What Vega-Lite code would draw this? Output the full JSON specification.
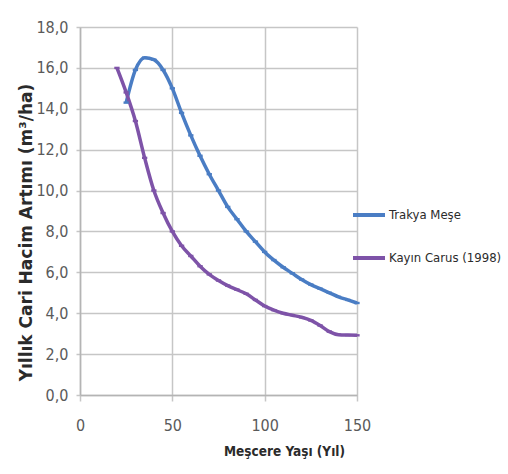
{
  "$schema": "https://vega.github.io/schema/vega-lite/v6.json",
  "width": 277,
  "height": 368,
  "autosize": {"type": "none"},
  "padding": {"left": 80, "top": 27, "right": 151, "bottom": 79},
  "background": "white",
  "config": {
    "view": {"stroke": null},
    "axis": {
      "gridColor": "#c6c6c6",
      "gridWidth": 1.5,
      "domainColor": "#b4b4b4",
      "domainWidth": 1.5,
      "tickColor": "#c6c6c6",
      "tickWidth": 1.5,
      "labelFont": "DejaVu Sans Condensed, Liberation Sans, sans-serif",
      "labelFontSize": 16,
      "labelColor": "#5a5a5a",
      "titleColor": "#2b2b2b"
    }
  },
  "data": {
    "values": [
      {"seri": "Trakya Meşe", "yas": 25, "artim": 14.3},
      {"seri": "Trakya Meşe", "yas": 30, "artim": 15.9},
      {"seri": "Trakya Meşe", "yas": 35, "artim": 16.5},
      {"seri": "Trakya Meşe", "yas": 40, "artim": 16.4},
      {"seri": "Trakya Meşe", "yas": 45, "artim": 15.9},
      {"seri": "Trakya Meşe", "yas": 50, "artim": 15.0},
      {"seri": "Trakya Meşe", "yas": 55, "artim": 13.8},
      {"seri": "Trakya Meşe", "yas": 60, "artim": 12.7},
      {"seri": "Trakya Meşe", "yas": 65, "artim": 11.7},
      {"seri": "Trakya Meşe", "yas": 70, "artim": 10.8},
      {"seri": "Trakya Meşe", "yas": 75, "artim": 10.0},
      {"seri": "Trakya Meşe", "yas": 80, "artim": 9.2},
      {"seri": "Trakya Meşe", "yas": 85, "artim": 8.6},
      {"seri": "Trakya Meşe", "yas": 90, "artim": 8.0},
      {"seri": "Trakya Meşe", "yas": 95, "artim": 7.5},
      {"seri": "Trakya Meşe", "yas": 100, "artim": 7.0},
      {"seri": "Trakya Meşe", "yas": 105, "artim": 6.6},
      {"seri": "Trakya Meşe", "yas": 110, "artim": 6.25},
      {"seri": "Trakya Meşe", "yas": 115, "artim": 5.95},
      {"seri": "Trakya Meşe", "yas": 120, "artim": 5.65},
      {"seri": "Trakya Meşe", "yas": 125, "artim": 5.4},
      {"seri": "Trakya Meşe", "yas": 130, "artim": 5.2},
      {"seri": "Trakya Meşe", "yas": 135, "artim": 5.0},
      {"seri": "Trakya Meşe", "yas": 140, "artim": 4.8},
      {"seri": "Trakya Meşe", "yas": 145, "artim": 4.65},
      {"seri": "Trakya Meşe", "yas": 150, "artim": 4.5},
      {"seri": "Kayın Carus (1998)", "yas": 20, "artim": 16.0},
      {"seri": "Kayın Carus (1998)", "yas": 25, "artim": 14.8},
      {"seri": "Kayın Carus (1998)", "yas": 30, "artim": 13.4},
      {"seri": "Kayın Carus (1998)", "yas": 35, "artim": 11.6},
      {"seri": "Kayın Carus (1998)", "yas": 40, "artim": 10.0},
      {"seri": "Kayın Carus (1998)", "yas": 45, "artim": 8.9},
      {"seri": "Kayın Carus (1998)", "yas": 50, "artim": 8.0},
      {"seri": "Kayın Carus (1998)", "yas": 55, "artim": 7.3},
      {"seri": "Kayın Carus (1998)", "yas": 60, "artim": 6.8},
      {"seri": "Kayın Carus (1998)", "yas": 65, "artim": 6.3},
      {"seri": "Kayın Carus (1998)", "yas": 70, "artim": 5.9},
      {"seri": "Kayın Carus (1998)", "yas": 75, "artim": 5.6},
      {"seri": "Kayın Carus (1998)", "yas": 80, "artim": 5.35},
      {"seri": "Kayın Carus (1998)", "yas": 85, "artim": 5.15},
      {"seri": "Kayın Carus (1998)", "yas": 90, "artim": 4.95},
      {"seri": "Kayın Carus (1998)", "yas": 95, "artim": 4.65},
      {"seri": "Kayın Carus (1998)", "yas": 100, "artim": 4.35},
      {"seri": "Kayın Carus (1998)", "yas": 105, "artim": 4.15},
      {"seri": "Kayın Carus (1998)", "yas": 110, "artim": 4.0},
      {"seri": "Kayın Carus (1998)", "yas": 115, "artim": 3.9},
      {"seri": "Kayın Carus (1998)", "yas": 120, "artim": 3.8},
      {"seri": "Kayın Carus (1998)", "yas": 125, "artim": 3.65},
      {"seri": "Kayın Carus (1998)", "yas": 130, "artim": 3.4},
      {"seri": "Kayın Carus (1998)", "yas": 135, "artim": 3.1},
      {"seri": "Kayın Carus (1998)", "yas": 140, "artim": 2.95},
      {"seri": "Kayın Carus (1998)", "yas": 145, "artim": 2.93},
      {"seri": "Kayın Carus (1998)", "yas": 150, "artim": 2.92}
    ]
  },
  "mark": {
    "type": "line",
    "interpolate": "monotone",
    "strokeWidth": 3.5,
    "point": {"filled": true, "size": 28, "shape": "M-1,-0.45L1,-0.45L1,0.45L-1,0.45Z"}
  },
  "encoding": {
    "x": {
      "field": "yas",
      "type": "quantitative",
      "scale": {"domain": [0, 150], "nice": false},
      "axis": {
        "values": [0, 50, 100, 150],
        "grid": true,
        "tickSize": 6,
        "labelFlush": false,
        "labelPadding": 16,
        "title": "Meşcere Yaşı (Yıl)",
        "titleFont": "DejaVu Sans Condensed, Liberation Sans, sans-serif",
        "titleFontWeight": "bold",
        "titleFontSize": 13.5,
        "titleX": 204,
        "titleY": 56,
        "titleBaseline": "middle",
        "titleAlign": "center"
      }
    },
    "y": {
      "field": "artim",
      "type": "quantitative",
      "scale": {"domain": [0, 18], "nice": false},
      "axis": {
        "values": [0, 2, 4, 6, 8, 10, 12, 14, 16, 18],
        "labelExpr": "replace(format(datum.value, '.1f'), '.', ',')",
        "grid": true,
        "tickSize": 4,
        "labelPadding": 8,
        "title": "Yıllık Cari Hacim Artımı (m³/ha)",
        "titleFont": "DejaVu Sans",
        "titleFontWeight": "bold",
        "titleFontSize": 17,
        "titleAngle": -90,
        "titleAnchor": "middle",
        "titleX": -54,
        "titleY": 205,
        "titleBaseline": "middle",
        "titleAlign": "center"
      }
    },
    "color": {
      "field": "seri",
      "type": "nominal",
      "scale": {
        "domain": ["Trakya Meşe", "Kayın Carus (1998)"],
        "range": ["#4a7dc4", "#7e53a8"]
      },
      "legend": {
        "title": null,
        "orient": "none",
        "legendX": 271,
        "legendY": 170,
        "symbolType": "M-1,0L1,0M0,-0.12L0,0.12",
        "symbolSize": 1024,
        "symbolStrokeWidth": 4,
        "symbolFillColor": "transparent",
        "labelFont": "DejaVu Sans Condensed, Liberation Sans, sans-serif",
        "labelFontSize": 13,
        "labelColor": "#2b2b2b",
        "labelOffset": 2,
        "labelLimit": 220,
        "rowPadding": 15
      }
    }
  }
}
